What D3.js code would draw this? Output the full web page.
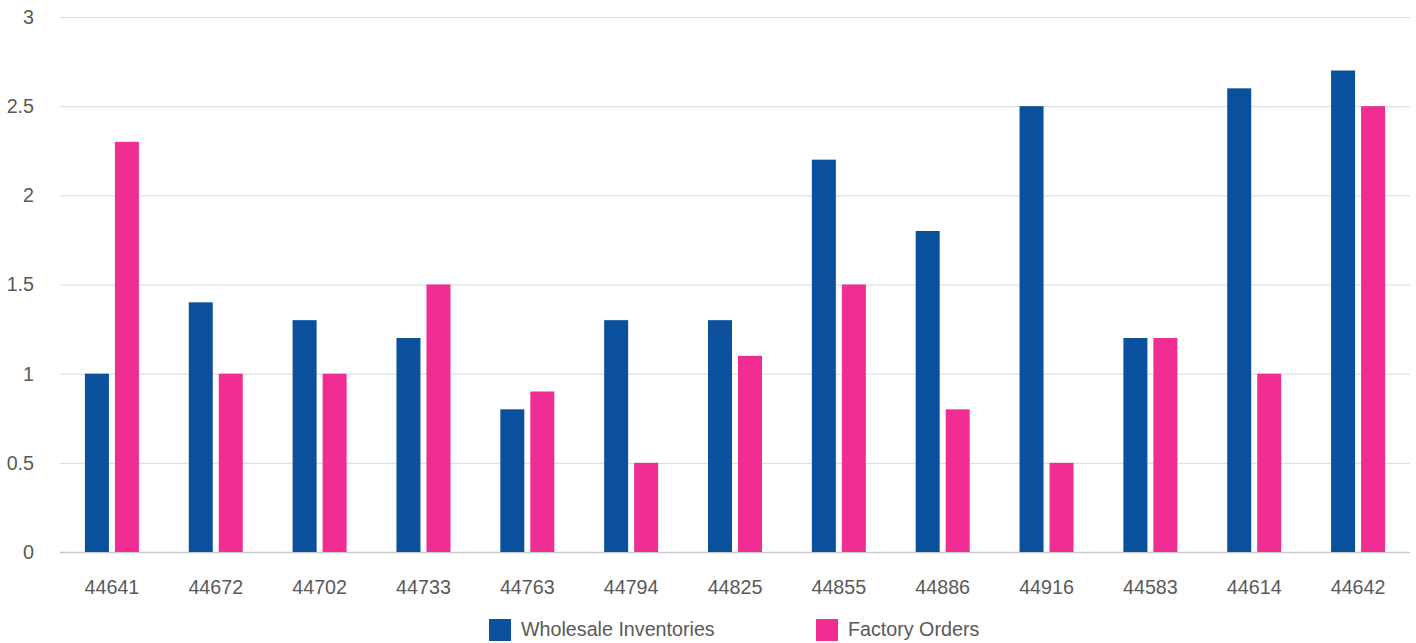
<!DOCTYPE html>
<html><head><meta charset="utf-8">
<script src="https://cdn.jsdelivr.net/npm/d3@7"></script>
<style>body{margin:0;background:#fff}svg{display:block}text{font-family:"Liberation Sans",Arial,sans-serif}</style>
</head><body><svg id="c" width="1416" height="643"></svg>
<script>
const categories = ["44641","44672","44702","44733","44763","44794","44825","44855","44886","44916","44583","44614","44642"];
const wholesale = [1,1.4,1.3,1.2,0.8,1.3,1.3,2.2,1.8,2.5,1.2,2.6,2.7];
const factory = [2.3,1,1,1.5,0.9,0.5,1.1,1.5,0.8,0.5,1.2,1,2.5];
const seriesNames = ["Wholesale Inventories","Factory Orders"];
const colors = ["#0b509c","#ef2d93"];
const yTicks = [0,0.5,1,1.5,2,2.5,3];

const svg = d3.select("#c");
const L=60,R=1410,T=17,B=552;
const x = d3.scaleBand().domain(categories).range([L,R]).paddingInner(0).paddingOuter(0);
const y = d3.scaleLinear().domain([0,3]).range([B,T]);
const bw=24, gap=6;
const fs=19.7;

svg.append("g").selectAll("line").data(yTicks).join("line")
 .attr("x1",L).attr("x2",R).attr("y1",d=>y(d)+0.5).attr("y2",d=>y(d)+0.5)
 .attr("stroke",d=>d===0?"#c6c9cc":"#d9d9d9").attr("stroke-width",d=>d===0?1.5:1);

svg.append("g").selectAll("text").data(yTicks).join("text")
 .attr("x",34).attr("y",d=>y(d)).attr("dy","0.35em").attr("text-anchor","end")
 .attr("font-size",fs).attr("fill","#595959").text(d=>d);

const data=[wholesale,factory];
data.forEach((vals,si)=>{
 svg.append("g").selectAll("rect").data(vals).join("rect")
  .attr("x",(d,i)=>x(categories[i])+x.bandwidth()/2-(bw*2+gap)/2+si*(bw+gap))
  .attr("width",bw)
  .attr("y",d=>y(d)).attr("height",d=>B-y(d))
  .attr("fill",colors[si]);
});

svg.append("g").selectAll("text").data(categories).join("text")
 .attr("x",d=>x(d)+x.bandwidth()/2).attr("y",587).attr("dy","0.35em")
 .attr("text-anchor","middle").attr("font-size",fs).attr("fill","#595959").text(d=>d);

const legX=[489,816];
seriesNames.forEach((n,i)=>{
 svg.append("rect").attr("x",legX[i]).attr("y",619).attr("width",22).attr("height",22).attr("fill",colors[i]);
 svg.append("text").attr("x",legX[i]+32).attr("y",629).attr("dy","0.35em")
  .attr("font-size",fs).attr("fill","#595959").text(n);
});
</script></body></html>
